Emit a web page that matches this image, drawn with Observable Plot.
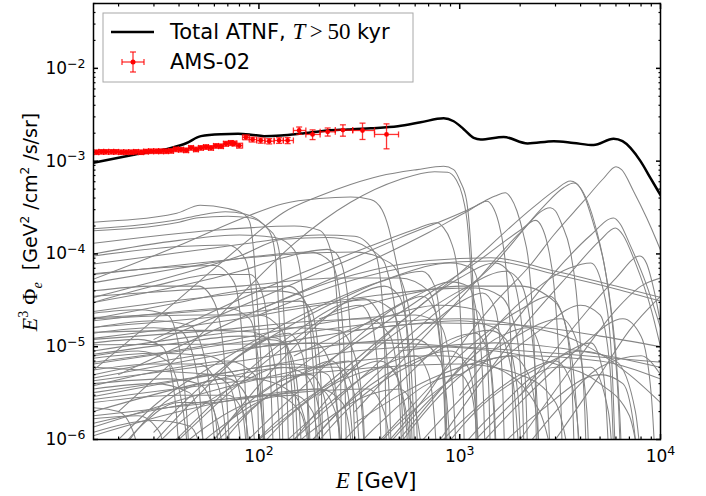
<!DOCTYPE html>
<html><head><meta charset="utf-8">
<script src="https://cdn.jsdelivr.net/npm/d3@7"></script>
<script src="https://cdn.jsdelivr.net/npm/@observablehq/plot@0.6"></script>
<style>body{margin:0;background:#fff}</style>
</head><body><div id="chart"></div>
<script>
// ---- Total ATNF (T > 50 kyr) : [E (GeV), E^3 Phi]
const totalE = [15,23.1,36.5,43.4,51.4,64.7,78.7,91.2,106,128.6,161.7,220,277,361,492,639,832,933,1047,1174,1271,1656,2179,2938,3688,4642,5840,6470,7950,8918,10000];
const totalF = [9.6e-4,1.16e-3,1.39e-3,1.56e-3,1.86e-3,1.95e-3,1.97e-3,1.93e-3,1.86e-3,1.89e-3,1.98e-3,2.14e-3,2.19e-3,2.26e-3,2.38e-3,2.62e-3,2.90e-3,2.69e-3,2.21e-3,1.78e-3,1.71e-3,1.82e-3,1.55e-3,1.64e-3,1.57e-3,1.49e-3,1.74e-3,1.64e-3,1.0e-3,6.56e-4,4.31e-4];

// ---- AMS-02 data
const amsE = [15.5,16.4,17.3,18.4,19.4,20.6,21.8,23.1,24.4,25.9,27.4,29.0,30.8,32.5,34.5,36.5,38.6,40.9,43.4,45.9,48.6,51.4,54.5,57.7,61.1,64.7,68.5,72.6,75.4,79.8,86.1,93,102,112.5,126,139,158.6,185,220,262,328,432];
const amsF = [1.25e-3,1.26e-3,1.26e-3,1.26e-3,1.26e-3,1.25e-3,1.25e-3,1.25e-3,1.26e-3,1.25e-3,1.27e-3,1.28e-3,1.28e-3,1.28e-3,1.28e-3,1.29e-3,1.34e-3,1.33e-3,1.31e-3,1.39e-3,1.34e-3,1.39e-3,1.42e-3,1.39e-3,1.46e-3,1.45e-3,1.54e-3,1.57e-3,1.55e-3,1.47e-3,1.81e-3,1.71e-3,1.67e-3,1.64e-3,1.67e-3,1.67e-3,2.14e-3,1.94e-3,2.07e-3,2.16e-3,2.14e-3,1.94e-3];
const amsErr = [0.055,0.055,0.055,0.055,0.055,0.055,0.055,0.055,0.055,0.055,0.055,0.055,0.055,0.055,0.055,0.055,0.055,0.055,0.055,0.055,0.055,0.055,0.055,0.055,0.055,0.055,0.06,0.06,0.06,0.06,0.06,0.06,0.065,0.065,0.07,0.075,0.09,0.12,0.10,0.14,0.20,0.30];

// ---- individual pulsars : [E (GeV), E^3 Phi]
const pulsars = [
 [[15,2.2e-4],[39,2.75e-4],[51,3.35e-4],[69,3.1e-4],[84,2.7e-4],[90,2.2e-4],[94,1.1e-4],[98,3.1e-5],[102,8e-6],[106,1.5e-6],[109,3e-7]],
 [[15,1.87e-4],[40,2.35e-4],[50,2.6e-4],[68,2.85e-4],[85,2.7e-4],[100,2.3e-4],[110,1.9e-4],[121,1.5e-4],[128,8.4e-5],[132,3.1e-5],[136,8e-6],[139,2e-6],[142,3e-7]],
 [[15,1.78e-4],[40,2.2e-4],[50,2.45e-4],[70,2.55e-4],[90,2.45e-4],[105,2.1e-4],[115,1.6e-4],[121,9e-5],[125,3e-5],[129,6e-6],[133,3e-7]],
 [[15,5.35e-5],[40,1.23e-4],[80,2.35e-4],[132,3.48e-4],[200,3.95e-4],[286,4.1e-4],[360,3.87e-4],[410,3.0e-4],[443,1.9e-4],[470,1.08e-4],[498,6e-5],[528,3.1e-5],[555,8e-6],[575,1.5e-6],[590,3e-7]],
 [[15,5.6e-6],[25,1.4e-5],[38.8,3.1e-5],[60,7e-5],[90,1.45e-4],[132,2.78e-4],[200,4.2e-4],[286,5.6e-4],[400,6.9e-4],[614,8.1e-4],[832,8.8e-4],[933,8.1e-4],[1004,6.1e-4],[1083,3.7e-4],[1126,1.6e-4],[1174,3.1e-5],[1210,4e-6],[1235,3e-7]],
 [[20,2e-6],[40,8e-6],[80,3.5e-5],[150,1.3e-4],[286,3.6e-4],[500,6.3e-4],[750,7.7e-4],[870,7.6e-4],[960,6.3e-4],[1030,4.3e-4],[1100,1.8e-4],[1150,4e-5],[1190,5e-6],[1215,3e-7]],
 [[450,1e-6],[700,3.2e-6],[1000,1e-5],[1500,3e-5],[2250,7.6e-5],[2940,1.6e-4],[4140,3.7e-4],[5200,6.5e-4],[6000,8.7e-4],[6400,8.1e-4],[7340,4.75e-4],[8540,2.44e-4],[9580,1.38e-4],[10000,1.1e-4]],
 [[100,1e-6],[200,3.4e-6],[500,1.8e-5],[1000,6.2e-5],[2330,3.2e-4],[3000,4.9e-4],[3555,6.1e-4],[3800,5.8e-4],[4140,4.4e-4],[4640,2.1e-4],[5200,8.4e-5],[5610,3.1e-5],[6000,8e-6],[6300,1.5e-6],[6500,3e-7]],
 [[150,1e-6],[300,4e-6],[700,2e-5],[1500,8e-5],[2600,3.2e-4],[3300,5.2e-4],[3700,5.8e-4],[3950,5.3e-4],[4300,3.8e-4],[4800,1.8e-4],[5350,6e-5],[5800,1.5e-5],[6200,2e-6],[6400,3e-7]],
 [[30,1.1e-5],[100,3.3e-5],[200,6.3e-5],[500,1.48e-4],[1174,3.2e-4],[1500,4.2e-4],[1687,4.56e-4],[1800,4.0e-4],[1928,2.9e-4],[2080,1.6e-4],[2200,8.4e-5],[2300,2.5e-5],[2380,4e-6],[2430,3e-7]],
 [[20,5e-6],[100,2.5e-5],[300,7e-5],[700,1.7e-4],[1100,2.9e-4],[1368,3.7e-4],[1450,3.3e-4],[1560,2.2e-4],[1660,1.1e-4],[1740,4e-5],[1810,8e-6],[1860,1e-6],[1885,3e-7]],
 [[300,2e-6],[600,1e-5],[1200,5e-5],[2000,1.7e-4],[2826,3.15e-4],[3000,2.9e-4],[3220,2.1e-4],[3555,1.08e-4],[3800,4e-5],[4000,1e-5],[4200,2e-6],[4320,3e-7]],
 [[1000,3e-6],[2000,2.2e-5],[3000,6.5e-5],[4500,1.6e-4],[5840,2.44e-4],[6300,2.1e-4],[7000,1.3e-4],[8500,4.7e-5],[10000,1.6e-5]],
 [[800,1e-6],[2000,1.5e-5],[3500,6e-5],[5000,1.4e-4],[5960,1.9e-4],[6500,1.6e-4],[7500,8e-5],[9000,2.5e-5],[10000,1e-5]],
 [[200,6e-6],[600,3e-5],[1200,8e-5],[2000,1.8e-4],[2382,2.3e-4],[2550,2.0e-4],[2750,1.2e-4],[2950,4.5e-5],[3100,1e-5],[3200,2e-6],[3280,3e-7]],
 [[2000,3e-6],[4000,2e-5],[6000,5.5e-5],[7900,9.5e-5],[8500,8e-5],[9300,4e-5],[10000,1.8e-5]],
 [[15,3.0e-5],[40,4.5e-5],[80,6.5e-5],[132,9.1e-5],[219,1.12e-4],[237,1.06e-4],[262,7e-5],[278,3.1e-5],[290,8e-6],[298,1.5e-6],[304,3e-7]],
 [[15,3.4e-5],[40,6e-5],[80,9.5e-5],[132,1.44e-4],[219,1.5e-4],[300,1.35e-4],[346,1.17e-4],[418,8.4e-5],[445,5.5e-5],[470,3.1e-5],[500,8e-6],[520,1.5e-6],[535,3e-7]],
 [[30,1.2e-5],[100,4e-5],[250,9e-5],[418,1.38e-4],[600,1.85e-4],[771,2.17e-4],[830,1.92e-4],[900,1.4e-4],[971,7e-5],[1010,2e-5],[1040,4e-6],[1062,3e-7]],
 [[15,1.05e-5],[100,1.07e-5],[400,1.1e-5],[1000,1.0e-5],[3000,8.5e-6],[10000,6.8e-6]],
 [[15,2.06e-5],[60,2.5e-5],[120,3.0e-5],[160,3.1e-5],[180,2.6e-5],[195,1.2e-5],[205,3e-6],[211,3e-7]],
 [[15,1.62e-5],[60,2.1e-5],[150,2.7e-5],[400,3.6e-5],[800,4.2e-5],[1200,4.3e-5],[1600,3.5e-5],[1900,1.5e-5],[2050,3e-6],[2110,3e-7]],
 [[15,1.43e-5],[50,1.5e-5],[90,1.45e-5],[110,1.2e-5],[120,6e-6],[126,1.5e-6],[130,3e-7]],
 [[15,1.23e-5],[80,2e-5],[200,2.8e-5],[350,3.2e-5],[450,2.6e-5],[520,1e-5],[560,2e-6],[578,3e-7]],
 [[15,8.3e-6],[40,1.1e-5],[80,1.3e-5],[120,1.25e-5],[145,8e-6],[158,2.5e-6],[166,3e-7]],
 [[15,6.8e-6],[50,1.0e-5],[150,1.6e-5],[300,2.0e-5],[600,2.2e-5],[800,1.7e-5],[900,6e-6],[950,1.2e-6],[975,3e-7]],
 [[15,5.6e-6],[30,6.5e-6],[50,6.5e-6],[62,4e-6],[68,1.3e-6],[72,3e-7]],
 [[15,4.6e-6],[60,8e-6],[200,1.3e-5],[500,1.7e-5],[1000,1.9e-5],[1500,1.6e-5],[1800,6e-6],[1950,1e-6],[2010,3e-7]],
 [[15,4e-6],[35,4.5e-6],[50,4e-6],[60,2e-6],[65,3e-7]],
 [[15,3.2e-6],[100,6e-6],[300,9e-6],[700,1e-5],[1500,9e-6],[3000,6.5e-6],[5000,4e-6],[7000,1.8e-6],[8200,3e-7]],
 [[15,2.5e-6],[40,3e-6],[70,3e-6],[85,1.8e-6],[93,3e-7]],
 [[15,2e-6],[50,4e-6],[150,6e-6],[250,6e-6],[300,3e-6],[325,3e-7]],
 [[15,1.67e-6],[25,1.8e-6],[32,1.2e-6],[36,3e-7]],
 [[15,1.36e-6],[80,4e-6],[300,7e-6],[800,8e-6],[1500,6e-6],[2500,2e-6],[3100,3e-7]],
 [[15,1.0e-4],[40,1.4e-4],[80,1.6e-4],[120,1.5e-4],[150,1.1e-4],[165,4e-5],[172,8e-6],[176,1.2e-6],[179,3e-7]],
 [[15,7.8e-5],[50,1.1e-4],[100,1.35e-4],[200,1.6e-4],[300,1.55e-4],[380,1.0e-4],[410,3.5e-5],[425,6e-6],[434,3e-7]],
 [[15,6.1e-5],[30,7e-5],[60,7.5e-5],[75,5e-5],[82,1.5e-5],[86,2.5e-6],[89,3e-7]],
 [[15,4.9e-5],[40,7e-5],[100,9.5e-5],[180,1.05e-4],[230,8e-5],[255,3e-5],[268,5e-6],[275,3e-7]],
 [[15,3.0e-5],[30,4.5e-5],[60,6e-5],[90,6e-5],[105,3.5e-5],[113,8e-6],[117,1.2e-6],[120,3e-7]],
 [[15,2e-5],[40,3e-5],[80,4e-5],[140,4.5e-5],[170,3e-5],[185,8e-6],[192,1.2e-6],[196,3e-7]],
 [[40,1e-6],[80,4e-6],[150,1.2e-5],[250,2.5e-5],[320,2.8e-5],[360,2e-5],[390,6e-6],[405,1e-6],[412,3e-7]],
 [[80,8e-7],[150,3e-6],[300,1.2e-5],[500,2.8e-5],[650,3.5e-5],[750,2.5e-5],[820,6e-6],[850,1e-6],[862,3e-7]],
 [[150,6e-7],[300,3e-6],[600,1.2e-5],[1000,3e-5],[1300,3.8e-5],[1500,2.6e-5],[1620,6e-6],[1690,3e-7]],
 [[300,5e-7],[600,2.5e-6],[1000,8e-6],[2000,2.5e-5],[2800,3.5e-5],[3300,2e-5],[3600,5e-6],[3760,3e-7]],
 [[600,8e-7],[1200,4e-6],[2500,1.5e-5],[4000,2.8e-5],[5000,2.2e-5],[5600,6e-6],[5920,3e-7]],
 [[1000,5e-7],[2000,2.5e-6],[4000,1.0e-5],[6500,2e-5],[8000,1.3e-5],[9000,3e-6],[9550,3e-7]],
 [[30,1.2e-6],[60,5e-6],[100,1.1e-5],[140,1.4e-5],[165,8e-6],[178,1.5e-6],[183,3e-7]],
 [[20,1e-6],[35,3e-6],[55,5e-6],[70,4e-6],[80,1.2e-6],[85,3e-7]],
 [[50,6e-7],[100,2.5e-6],[200,6e-6],[280,7e-6],[320,3e-6],[342,3e-7]],
 [[200,5e-7],[500,4e-6],[900,1.2e-5],[1200,1.4e-5],[1400,8e-6],[1500,1.5e-6],[1545,3e-7]],
 [[400,7e-7],[800,3.5e-6],[1600,1.3e-5],[2200,1.6e-5],[2600,7e-6],[2800,1e-6],[2860,3e-7]],
 [[800,4e-7],[2000,3e-6],[3500,9e-6],[4500,1.1e-5],[5200,5e-6],[5620,3e-7]],
 [[25,6e-7],[50,3e-6],[80,8e-6],[110,1.2e-5],[135,1.1e-5],[150,4e-6],[159,3e-7]],
 [[60,1e-6],[120,6e-6],[200,1.8e-5],[300,3.5e-5],[420,4.5e-5],[500,3.5e-5],[560,1e-5],[590,1.5e-6],[602,3e-7]],
 [[150,1e-6],[300,6e-6],[600,2.5e-5],[1000,5.5e-5],[1500,8e-5],[1800,6e-5],[2050,1.5e-5],[2150,2e-6],[2200,3e-7]],
 [[500,1e-6],[1000,6e-6],[2000,3e-5],[3500,7e-5],[4500,8e-5],[5200,4e-5],[5700,8e-6],[6020,3e-7]],
 [[2000,1e-6],[4000,8e-6],[6000,2.5e-5],[8000,4.5e-5],[10000,5.5e-5]],
 [[3000,1e-6],[5000,5e-6],[7000,1.5e-5],[10000,3.5e-5]],
 [[100,5e-7],[200,2e-6],[400,6e-6],[600,8e-6],[700,5e-6],[760,1e-6],[782,3e-7]],
 [[35,8e-7],[70,3.5e-6],[150,1.4e-5],[250,2.8e-5],[330,3.3e-5],[400,2.2e-5],[440,5e-6],[462,3e-7]],
 [[100,2.5e-5],[300,6e-5],[700,8.5e-5],[1430,9.1e-5],[3000,6.5e-5],[6000,4.5e-5],[10000,3.4e-5]],
 [[100,2.2e-5],[300,5.3e-5],[700,7.8e-5],[1430,8.4e-5],[3000,6e-5],[6000,4.2e-5],[10000,3.1e-5]],
 [[300,1.5e-5],[800,1.8e-5],[2000,1.7e-5],[5000,1.3e-5],[10000,1e-5]],
 [[500,9e-6],[1500,1.1e-5],[4000,9e-6],[10000,6e-6]],
 [[100,3e-6],[300,1.5e-5],[600,3.5e-5],[900,5e-5],[1100,4.5e-5],[1250,1.5e-5],[1320,2e-6],[1352,3e-7]],
 [[200,3e-6],[500,1.5e-5],[1000,4e-5],[1700,6.5e-5],[2000,5e-5],[2300,1.2e-5],[2450,1.5e-6],[2505,3e-7]],
 [[50,5e-6],[150,2e-5],[400,5e-5],[650,6.5e-5],[750,4.5e-5],[820,1e-5],[860,1.5e-6],[872,3e-7]],
 [[80,8e-6],[200,2.5e-5],[450,5.5e-5],[900,8e-5],[1150,7e-5],[1300,2.5e-5],[1400,3e-6],[1432,3e-7]],
 [[15,8e-6],[25,9e-6],[35,7e-6],[42,2e-6],[46,3e-7]],
 [[15,1.6e-5],[30,1.9e-5],[45,1.7e-5],[55,6e-6],[60,1e-6],[63,3e-7]],
 [[15,3.8e-6],[40,6e-6],[70,7e-6],[95,5e-6],[105,1.2e-6],[109,3e-7]],
 [[15,2.2e-6],[20,2e-6],[24,1.1e-6],[27,3e-7]],
 [[18,5e-7],[30,2e-6],[50,4e-6],[70,4.5e-6],[90,2.5e-6],[99,3e-7]],
 [[15,1.2e-5],[60,1.5e-5],[200,1.9e-5],[350,2e-5],[450,1.3e-5],[500,3e-6],[522,3e-7]],
 [[15,2.7e-6],[100,4.5e-6],[400,6e-6],[1000,6.5e-6],[2000,5e-6],[3000,2.5e-6],[3720,3e-7]],
 [[15,5e-6],[40,7.5e-6],[100,1e-5],[190,1.1e-5],[230,6e-6],[250,1.2e-6],[256,3e-7]],
 [[15,1.9e-5],[40,2.4e-5],[70,2.6e-5],[90,2e-5],[100,6e-6],[105,1e-6],[108,3e-7]],
 [[15,6e-5],[50,8e-5],[150,1e-4],[300,1.05e-4],[450,8e-5],[550,3e-5],[600,5e-6],[622,3e-7]],
 [[15,1.1e-6],[40,2e-6],[100,3e-6],[200,3.5e-6],[260,2.5e-6],[290,8e-7],[300,3e-7]],
 [[15,3.5e-6],[30,4e-6],[45,3.2e-6],[52,1.2e-6],[55,3e-7]],
 [[20,3e-7],[40,1.5e-6],[80,4e-6],[130,6e-6],[170,5e-6],[200,2e-6],[215,3e-7]],
 [[60,3e-7],[120,1.5e-6],[250,4.5e-6],[400,7e-6],[480,5e-6],[540,1.5e-6],[565,3e-7]],
 [[15,9e-6],[50,1.3e-5],[150,1.6e-5],[250,1.5e-5],[300,8e-6],[330,2e-6],[342,3e-7]],
 [[15,2.9e-6],[60,5e-6],[150,6.5e-6],[220,5e-6],[250,1.5e-6],[262,3e-7]],
 [[120,3e-7],[250,2e-6],[500,6e-6],[900,9e-6],[1100,6e-6],[1220,1.5e-6],[1265,3e-7]],
 [[250,3e-7],[500,1.5e-6],[1000,5e-6],[1800,8e-6],[2200,5e-6],[2450,1.2e-6],[2530,3e-7]],
 [[700,3e-7],[1500,2e-6],[3000,6e-6],[4500,6e-6],[5500,2e-6],[5900,3e-7]],
 [[1500,3e-7],[3000,2e-6],[5000,6e-6],[8000,8e-6],[10000,5e-6]],
 [[15,1.4e-5],[30,1.6e-5],[40,1.5e-5],[47,8e-6],[52,1.5e-6],[54,3e-7]],
 [[15,2.4e-5],[60,3.5e-5],[120,4e-5],[160,3.6e-5],[185,1.5e-5],[197,3e-6],[204,3e-7]],
 [[15,4e-5],[30,4.5e-5],[50,4.5e-5],[60,3e-5],[67,8e-6],[71,1e-6],[73,3e-7]],
 [[15,6.5e-6],[100,1.2e-5],[400,1.8e-5],[1000,2e-5],[2000,1.7e-5],[4000,1.1e-5],[7000,5e-6],[10000,2.5e-6]],
 [[40,3e-7],[70,1.5e-6],[120,4e-6],[180,5e-6],[210,3e-6],[230,8e-7],[238,3e-7]],
 [[15,1.2e-6],[30,1.6e-6],[45,1.4e-6],[52,7e-7],[55,3e-7]],
 [[300,1.5e-6],[800,5e-6],[2000,8e-6],[5000,7e-6],[10000,4.5e-6]],
 [[90,3e-7],[180,1.2e-6],[350,3e-6],[500,3.5e-6],[600,2e-6],[660,5e-7],[675,3e-7]],
 [[15,2e-5],[50,2.2e-5],[100,2.2e-5],[130,1.5e-5],[145,4e-6],[152,3e-7]],
 [[500,3e-7],[1000,1.5e-6],[2000,5e-6],[3000,7e-6],[3600,4e-6],[3950,8e-7],[4050,3e-7]],
 [[15,7.5e-6],[30,8.5e-6],[55,8e-6],[75,5e-6],[85,1.3e-6],[89,3e-7]],
 [[15,4.3e-6],[80,7e-6],[300,1.1e-5],[600,1.2e-5],[800,7e-6],[880,1.5e-6],[905,3e-7]],
 [[30,3e-7],[60,1.2e-6],[120,3e-6],[200,3.5e-6],[240,2e-6],[265,5e-7],[272,3e-7]],
 [[200,3e-7],[400,1.5e-6],[700,4e-6],[1000,5e-6],[1150,3e-6],[1250,6e-7],[1280,3e-7]],
 [[1000,3e-7],[2500,2e-6],[5000,5e-6],[6500,4e-6],[7500,1e-6],[7900,3e-7]],
 [[15,9.5e-5],[40,1.2e-4],[70,1.25e-4],[85,9e-5],[93,3e-5],[98,5e-6],[101,3e-7]],
 [[15,1.3e-4],[60,1.8e-4],[150,2.0e-4],[200,1.8e-4],[230,1e-4],[245,3e-5],[255,5e-6],[260,3e-7]],
 [[15,1.5e-6],[50,2.5e-6],[120,3e-6],[160,2e-6],[180,6e-7],[186,3e-7]],
 [[25,3e-7],[45,1e-6],[90,2.5e-6],[150,3e-6],[185,2e-6],[205,5e-7],[210,3e-7]],
 [[15,6e-6],[30,5.5e-6],[60,5e-6],[100,4.5e-6],[150,3e-6],[180,8e-7],[188,3e-7]],
 [[70,3e-7],[150,2e-6],[300,5e-6],[450,6e-6],[520,3e-6],[570,6e-7],[580,3e-7]],
 [[15,2.3e-5],[25,2.5e-5],[35,2.2e-5],[40,1e-5],[44,1.5e-6],[46,3e-7]],
 [[15,1.8e-6],[60,2.5e-6],[150,3.2e-6],[350,3.5e-6],[420,2e-6],[460,5e-7],[468,3e-7]],
 [[130,3e-7],[300,2.5e-6],[700,8e-6],[1400,1.5e-5],[1700,1.2e-5],[1950,3e-6],[2050,3e-7]],
 [[350,3e-7],[800,3e-6],[1800,1.2e-5],[3200,2e-5],[3800,1.2e-5],[4300,2e-6],[4450,3e-7]],
 [[200,2e-5],[500,3.5e-5],[1000,4.5e-5],[2000,4.5e-5],[3000,3e-5],[3600,8e-6],[3900,1e-6],[4000,3e-7]],
 [[150,8e-6],[400,2e-5],[800,2.8e-5],[1200,2.5e-5],[1400,8e-6],[1500,1e-6],[1530,3e-7]],
 [[15,3e-7],[25,1.3e-6],[40,2.5e-6],[55,2.5e-6],[65,1e-6],[70,3e-7]],
 [[45,3e-7],[90,2e-6],[160,5e-6],[230,7e-6],[270,4e-6],[295,8e-7],[302,3e-7]],
 [[600,3e-7],[1200,2e-6],[2500,6e-6],[4000,9e-6],[6000,7e-6],[7500,2e-6],[8200,3e-7]],
 [[15,3.5e-5],[80,4.5e-5],[250,5.5e-5],[500,5.5e-5],[700,4e-5],[800,1e-5],[850,1.5e-6],[865,3e-7]],
 [[15,1.1e-5],[25,1.2e-5],[33,1e-5],[38,3e-6],[41,3e-7]]
];

// ---- axis ticks
const majorX = [100, 1000, 10000];
const majorY = [1e-6, 1e-5, 1e-4, 1e-3, 1e-2];
const minorX = [10,100,1000].flatMap(d => [2,3,4,5,6,7,8,9].map(m => m*d)).filter(v => v >= 15 && v <= 1e4);
const minorY = [1e-6,1e-5,1e-4,1e-3,1e-2].flatMap(d => [2,3,4,5,6,7,8,9].map(m => m*d)).filter(v => v <= 0.05);
const fmt = d => "10^" + Math.round(Math.log10(d));

const total = totalE.map((e,i) => ({e, f: totalF[i]}));
const ams = amsE.map((e,i) => {
  const lo = i > 0 ? Math.sqrt(e*amsE[i-1]) : e*e/Math.sqrt(e*amsE[i+1]);
  const hi = i < amsE.length-1 ? Math.sqrt(e*amsE[i+1]) : e*e/Math.sqrt(e*amsE[i-1]);
  return {e, f: amsF[i], fLo: amsF[i]*(1-amsErr[i]), fHi: amsF[i]*(1+amsErr[i]), eLo: lo, eHi: hi};
});
const grey = pulsars.flatMap((pts, id) => pts.map(([e,f]) => ({e, f, id})));

const capH = {draw(ctx, size){ const w = Math.sqrt(size/Math.PI); ctx.moveTo(-w,0); ctx.lineTo(w,0); }};
const capV = {draw(ctx, size){ const w = Math.sqrt(size/Math.PI); ctx.moveTo(0,-w); ctx.lineTo(0,w); }};
const red = "#ff0000";

const chart = Plot.plot({
  width: 706, height: 496,
  marginLeft: 93, marginRight: 46, marginTop: 3, marginBottom: 57,
  style: {fontFamily: "DejaVu Sans", fontSize: "17px", background: "white", color: "black"},
  x: {type: "log", domain: [15, 1e4]},
  y: {type: "log", domain: [1e-6, 0.05]},
  marks: [
    Plot.line(grey, {x: "e", y: "f", z: "id", stroke: "#858585", strokeWidth: 1.05, curve: "monotone-x", clip: true}),
    Plot.line(total, {x: "e", y: "f", stroke: "black", strokeWidth: 2.5, curve: "monotone-x", clip: true}),
    Plot.link(ams, {x1: "eLo", x2: "eHi", y1: "f", y2: "f", stroke: red, strokeOpacity: 0.8, strokeWidth: 1.3}),
    Plot.link(ams, {x1: "e", x2: "e", y1: "fLo", y2: "fHi", stroke: red, strokeOpacity: 0.8, strokeWidth: 1.3}),
    Plot.dot(ams, {x: "e", y: "fLo", symbol: capH, r: 3, stroke: red, strokeOpacity: 0.8, fill: "none", strokeWidth: 1.3}),
    Plot.dot(ams, {x: "e", y: "fHi", symbol: capH, r: 3, stroke: red, strokeOpacity: 0.8, fill: "none", strokeWidth: 1.3}),
    Plot.dot(ams, {x: "eLo", y: "f", symbol: capV, r: 3, stroke: red, strokeOpacity: 0.8, fill: "none", strokeWidth: 1.3}),
    Plot.dot(ams, {x: "eHi", y: "f", symbol: capV, r: 3, stroke: red, strokeOpacity: 0.8, fill: "none", strokeWidth: 1.3}),
    Plot.dot(ams, {x: "e", y: "f", r: 2.4, fill: red, stroke: "none"}),
    Plot.frame({stroke: "black", strokeWidth: 1.5}),
    Plot.axisX(majorX, {anchor: "bottom", tickSize: -5, strokeWidth: 1.5, fill: "none", label: null}),
    Plot.axisX(minorX, {anchor: "bottom", tickSize: -2.5, strokeWidth: 1.2, fill: "none", label: null}),
    Plot.axisX(majorX, {anchor: "top", tickSize: -5, strokeWidth: 1.5, fill: "none", label: null}),
    Plot.axisX(minorX, {anchor: "top", tickSize: -2.5, strokeWidth: 1.2, fill: "none", label: null}),
    Plot.axisY(majorY, {anchor: "left", tickSize: -5, strokeWidth: 1.5, fill: "none", label: null}),
    Plot.axisY(minorY, {anchor: "left", tickSize: -2.5, strokeWidth: 1.2, fill: "none", label: null}),
    Plot.axisY(majorY, {anchor: "right", tickSize: -5, strokeWidth: 1.5, fill: "none", label: null}),
    Plot.axisY(minorY, {anchor: "right", tickSize: -2.5, strokeWidth: 1.2, fill: "none", label: null}),
    Plot.axisX(majorX, {anchor: "bottom", tickSize: 0, tickPadding: 10, tickFormat: fmt, label: null}),
    Plot.axisY(majorY, {anchor: "left", tickSize: 0, tickPadding: 8, tickFormat: fmt, label: null})
  ]
});
document.getElementById("chart").appendChild(chart);

const svg = d3.select(chart);
// turn "10^n" tick labels into 10 with a raised exponent
svg.selectAll("text").each(function() {
  const t = d3.select(this);
  const m = /^10\^(-?\d+)$/.exec(t.text());
  if (!m) return;
  t.text("10");
  t.append("tspan").attr("dy", "-0.5em").attr("font-size", "12.5px").text(m[1].replace("-", "\u2212"));
});

const serif = "Liberation Serif";
const xl = svg.append("text").attr("x", 376).attr("y", 488).attr("text-anchor", "middle")
  .attr("font-size", 21).attr("font-family", "DejaVu Sans").attr("fill", "black").style("white-space", "pre");
xl.append("tspan").attr("font-family", serif).attr("font-style", "italic").attr("font-size", 23).text("E");
xl.append("tspan").text(" [GeV]");

const yl = svg.append("text").attr("transform", "translate(37,222) rotate(-90)").attr("text-anchor", "middle")
  .attr("font-size", 19).attr("font-family", "DejaVu Sans").attr("fill", "black").style("white-space", "pre");
yl.append("tspan").attr("font-family", serif).attr("font-style", "italic").attr("font-size", 22).text("E");
yl.append("tspan").attr("font-family", serif).attr("font-size", 14).attr("dy", -9).text("3");
yl.append("tspan").attr("dy", 9).text(" ");
yl.append("tspan").attr("font-family", serif).attr("font-size", 22).text("\u03A6");
yl.append("tspan").attr("font-family", serif).attr("font-style", "italic").attr("font-size", 14).attr("dy", 5).text("e");
yl.append("tspan").attr("dy", -5).text("  [GeV");
yl.append("tspan").attr("font-size", 12).attr("dy", -8).text("2");
yl.append("tspan").attr("dy", 8).text(" /cm");
yl.append("tspan").attr("font-size", 12).attr("dy", -8).text("2");
yl.append("tspan").attr("dy", 8).text(" /s/sr]");

const lg = svg.append("g").attr("text-anchor", "start");
lg.append("rect").attr("x", 103).attr("y", 13).attr("width", 310).attr("height", 69)
  .attr("fill", "white").attr("stroke", "#a8a8a8").attr("stroke-width", 1);
lg.append("line").attr("x1", 111).attr("x2", 154).attr("y1", 32).attr("y2", 32).attr("stroke", "black").attr("stroke-width", 2.5);
const t1 = lg.append("text").attr("x", 170).attr("y", 39).attr("text-anchor", "start").attr("font-size", 21).attr("font-family", "DejaVu Sans").attr("fill", "black").style("white-space", "pre");
t1.append("tspan").text("Total ATNF, ");
t1.append("tspan").attr("font-family", serif).attr("font-style", "italic").attr("font-size", 23).text("T");
t1.append("tspan").attr("font-family", serif).attr("font-size", 23).text("\u2009>\u200950");
t1.append("tspan").text(" kyr");
const eb = lg.append("g").attr("stroke", red).attr("stroke-opacity", 0.8).attr("stroke-width", 1.3);
eb.append("line").attr("x1", 122).attr("x2", 144).attr("y1", 62).attr("y2", 62);
eb.append("line").attr("x1", 133).attr("x2", 133).attr("y1", 52).attr("y2", 72);
eb.append("line").attr("x1", 130).attr("x2", 136).attr("y1", 52).attr("y2", 52);
eb.append("line").attr("x1", 130).attr("x2", 136).attr("y1", 72).attr("y2", 72);
eb.append("line").attr("x1", 122).attr("x2", 122).attr("y1", 59).attr("y2", 65);
eb.append("line").attr("x1", 144).attr("x2", 144).attr("y1", 59).attr("y2", 65);
lg.append("circle").attr("cx", 133).attr("cy", 62).attr("r", 2.5).attr("fill", red);
lg.append("text").attr("x", 170).attr("y", 69).attr("text-anchor", "start").attr("font-size", 21).attr("font-family", "DejaVu Sans").attr("fill", "black").text("AMS-02");
</script></body></html>
